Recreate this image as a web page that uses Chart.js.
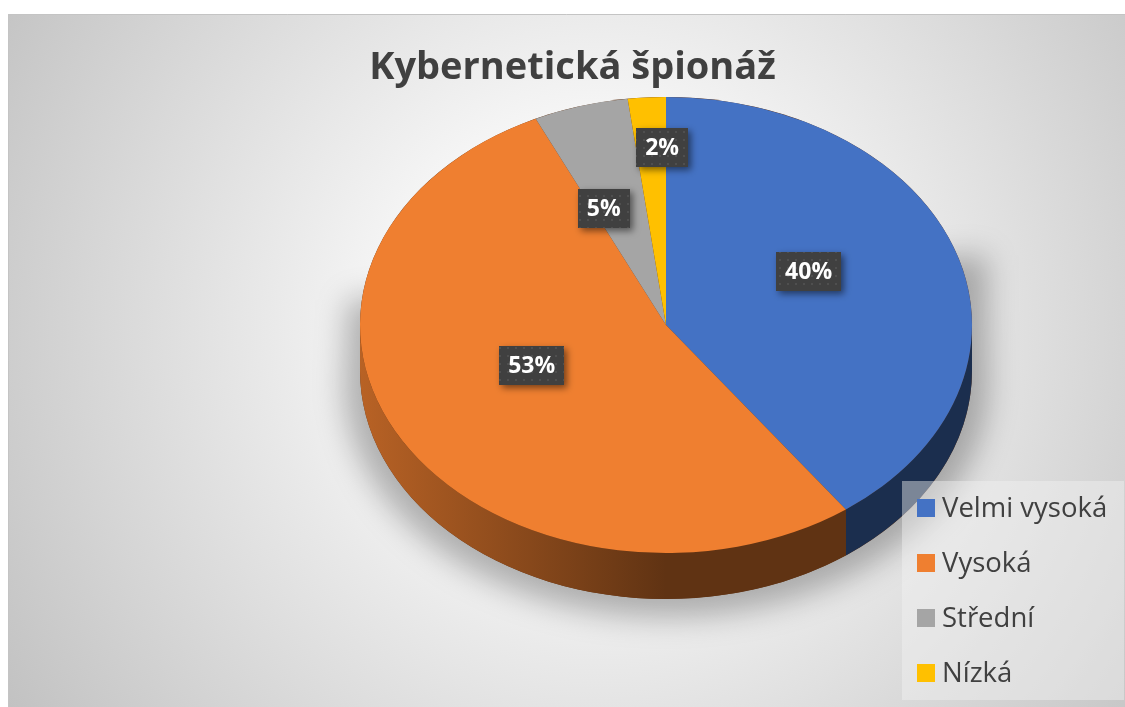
<!DOCTYPE html>
<html><head><meta charset="utf-8">
<script src="https://cdn.jsdelivr.net/npm/chart.js@4.4.0/dist/chart.umd.min.js"></script>
<style>html,body{margin:0;padding:0;background:#fff;overflow:hidden}#wrap{position:relative;width:1125px;height:707px}</style>
</head><body><div id="wrap"><canvas id="c" width="1125" height="707"></canvas></div>
<script>
// ---- data ----
const chartTitle = 'Kybernetická špionáž';
const categories = ['Velmi vysoká', 'Vysoká', 'Střední', 'Nízká'];
const values = [40, 53, 5, 2];
const valueLabels = ['40%', '53%', '5%', '2%'];
const sliceColors = ['#4472C4', '#EF7F30', '#A5A5A5', '#FFC000'];

// ---- style / layout ----
const PIE = { cx: 666, cy: 325, rx: 306, ry: 228, depth: 46, labelCy: 307 };
const labelFraction = [[0.49, 0.5], [0.51, 0.5], [0.73, 0.45], [0.2, 0.7]];
const FONT = 'Open Sans';

function hexToRgb(h) { const n = parseInt(h.slice(1), 16); return [(n >> 16) & 255, (n >> 8) & 255, n & 255]; }
function shade(h, f) { const c = hexToRgb(h); return `rgb(${Math.round(c[0]*f)},${Math.round(c[1]*f)},${Math.round(c[2]*f)})`; }

let dotPattern = null;
function getPattern(ctx) {
  if (dotPattern) return dotPattern;
  const p = document.createElement('canvas'); p.width = 8; p.height = 8;
  const pc = p.getContext('2d');
  pc.fillStyle = '#404040'; pc.fillRect(0, 0, 8, 8);
  pc.fillStyle = '#4f4f4f'; pc.fillRect(3, 3, 2, 2);
  dotPattern = ctx.createPattern(p, 'repeat');
  return dotPattern;
}

const pie3d = {
  id: 'pie3d',
  beforeDraw(chart) {
    const { ctx, width, height } = chart;
    ctx.save();
    ctx.fillStyle = '#fff'; ctx.fillRect(0, 0, width, height);
    const g = ctx.createRadialGradient(600, 330, 0, 600, 330, 700);
    g.addColorStop(0, '#ffffff'); g.addColorStop(0.3, '#f6f6f6'); g.addColorStop(1, '#c2c2c2');
    ctx.fillStyle = g; ctx.fillRect(8, 14, 1117, 693);
    ctx.strokeStyle = '#c4c4c4'; ctx.lineWidth = 1;
    ctx.beginPath(); ctx.moveTo(8.5, 707); ctx.lineTo(8.5, 14.5); ctx.lineTo(1125, 14.5); ctx.stroke();
    ctx.restore();
  },
  beforeDatasetsDraw(chart) {
    const { ctx } = chart;
    const meta = chart.getDatasetMeta(0);
    const first = meta.data[0];
    const { x, y, outerRadius } = first.getProps(['x', 'y', 'outerRadius'], true);
    const { cx, cy, rx, ry, depth } = PIE;
    // soft ground shadow
    ctx.save();
    ctx.filter = 'blur(15px)';
    ctx.beginPath();
    ctx.moveTo(cx - rx - 12, cy - 25);
    ctx.lineTo(cx + rx + 14, cy - 70);
    ctx.ellipse(cx, cy + depth + 12, rx + 16, ry + 6, 0, 0, Math.PI);
    ctx.closePath();
    ctx.fillStyle = 'rgba(0,0,0,0.28)'; ctx.fill();
    ctx.restore();
    // silhouette base
    ctx.save();
    ctx.beginPath();
    ctx.ellipse(cx, cy, rx, ry, 0, Math.PI, 2 * Math.PI);
    ctx.lineTo(cx + rx, cy + depth);
    ctx.ellipse(cx, cy + depth, rx, ry, 0, 0, Math.PI);
    ctx.closePath();
    ctx.fillStyle = '#5f3214'; ctx.fill();
    ctx.restore();
    // sides
    meta.data.forEach((arc, i) => {
      const { startAngle, endAngle } = arc.getProps(['startAngle', 'endAngle'], true);
      const lo = Math.max(startAngle, 0), hi = Math.min(endAngle, Math.PI);
      if (lo >= hi) return;
      const col = chart.data.datasets[0].backgroundColor[i];
      const g = ctx.createLinearGradient(cx - rx, 0, cx, 0);
      g.addColorStop(0, shade(col, 0.77)); g.addColorStop(1, shade(col, 0.4));
      ctx.save();
      ctx.beginPath();
      ctx.ellipse(cx, cy, rx, ry, 0, lo, hi);
      ctx.ellipse(cx, cy + depth, rx, ry, 0, hi, lo, true);
      ctx.closePath();
      ctx.fillStyle = g; ctx.fill();
      ctx.restore();
    });
    // transform for top face
    ctx.save();
    ctx.translate(cx, cy);
    ctx.scale(rx / outerRadius, ry / outerRadius);
    ctx.translate(-x, -y);
  },
  afterDatasetsDraw(chart) {
    const { ctx } = chart;
    ctx.restore();
    const meta = chart.getDatasetMeta(0);
    const { cx, rx, ry, labelCy } = PIE;
    ctx.save();
    ctx.font = `bold 23px "${FONT}"`;
    ctx.textAlign = 'center'; ctx.textBaseline = 'middle';
    meta.data.forEach((arc, i) => {
      const { startAngle, endAngle } = arc.getProps(['startAngle', 'endAngle'], true);
      const mid = (startAngle + endAngle) / 2;
      const [fx, fy] = labelFraction[i];
      const lx = cx + rx * fx * Math.cos(mid);
      const ly = labelCy + ry * fy * Math.sin(mid);
      const txt = valueLabels[i];
      const w = ctx.measureText(txt).width + 18, h = 39;
      ctx.save();
      ctx.shadowColor = 'rgba(0,0,0,0.5)'; ctx.shadowBlur = 7; ctx.shadowOffsetX = 3; ctx.shadowOffsetY = 3;
      ctx.fillStyle = getPattern(ctx);
      ctx.fillRect(Math.round(lx - w / 2), Math.round(ly - h / 2), Math.round(w), h);
      ctx.restore();
      ctx.fillStyle = '#ffffff';
      ctx.fillText(txt, lx, ly + 1);
    });
    ctx.restore();
  },
  afterDraw(chart) {
    const { ctx } = chart;
    ctx.save();
    ctx.fillStyle = 'rgba(242,242,242,0.45)';
    ctx.fillRect(902, 481, 222, 219);
    ctx.font = `27.5px "${FONT}"`;
    ctx.textBaseline = 'middle'; ctx.textAlign = 'left';
    chart.data.labels.forEach((lab, i) => {
      const ty = 508 + i * 55;
      ctx.fillStyle = chart.data.datasets[0].backgroundColor[i];
      ctx.fillRect(917, ty - 9, 18, 18);
      ctx.fillStyle = '#404040';
      ctx.fillText(lab, 942, ty + 1);
    });
    ctx.restore();
  }
};

new Chart(document.getElementById('c'), {
  type: 'pie',
  data: {
    labels: categories,
    datasets: [{ data: values, backgroundColor: sliceColors, borderWidth: 0 }]
  },
  options: {
    responsive: false,
    animation: false,
    layout: { padding: { left: 20, right: 0, top: 14, bottom: 2 } },
    plugins: {
      title: { display: true, text: chartTitle, color: '#404040', font: { family: FONT, size: 38, weight: 'bold' }, padding: { top: 31, bottom: 10 } },
      legend: { display: false },
      tooltip: { enabled: false }
    }
  },
  plugins: [pie3d]
});
</script>
</body></html>
